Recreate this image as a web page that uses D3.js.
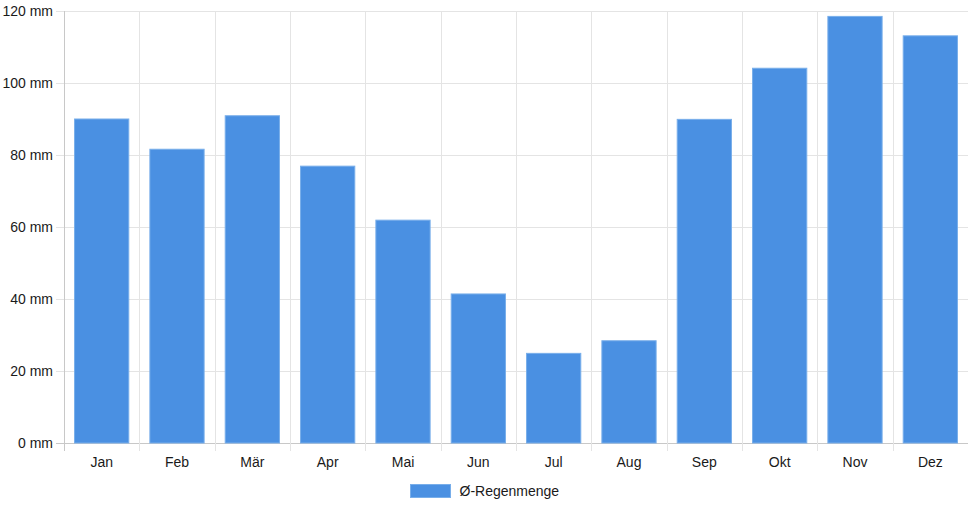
<!DOCTYPE html>
<html>
<head>
<meta charset="utf-8">
<script src="https://cdn.jsdelivr.net/npm/d3@7"></script>
<style>
  body { margin: 0; background: #fff; }
  text { font-family: "Liberation Sans", Arial, sans-serif; font-size: 14px; fill: #1a1a1a; }
</style>
</head>
<body>
<svg id="chart" width="968" height="508"></svg>
<script>
// monthly average rainfall
const months = ['Jan', 'Feb', 'Mär', 'Apr', 'Mai', 'Jun', 'Jul', 'Aug', 'Sep', 'Okt', 'Nov', 'Dez']
const rain = [90, 81.6, 90.9, 76.9, 61.9, 41.4, 24.9, 28.4, 89.9, 104.1, 118.5, 113.1]
const yTicks = [0, 20, 40, 60, 80, 100, 120]
const seriesName = 'Ø-Regenmenge'

const margin = { top: 11, right: 0, bottom: 65, left: 64 }
const width = 968 - margin.left - margin.right
const height = 508 - margin.top - margin.bottom

const svg = d3.select('#chart')
  .append('g')
  .attr('transform', 'translate(' + margin.left + ',' + margin.top + ')')

const x = d3.scaleBand()
  .domain(months)
  .range([0, width])
  .paddingInner(0)

const y = d3.scaleLinear()
  .domain([0, 120])
  .range([height, 0])

// grid lines
svg.append('g')
  .selectAll('line')
  .data(yTicks)
  .enter()
  .append('line')
  .attr('x1', -8)
  .attr('x2', width)
  .attr('y1', d => Math.round(y(d)) + 0.5)
  .attr('y2', d => Math.round(y(d)) + 0.5)
  .attr('stroke', d => d === 0 ? '#c8c8c8' : '#e4e4e4')

svg.append('g')
  .selectAll('line')
  .data(months.map((m, i) => i))
  .enter()
  .append('line')
  .attr('x1', d => Math.round(d * x.step()) + 0.5)
  .attr('x2', d => Math.round(d * x.step()) + 0.5)
  .attr('y1', 0)
  .attr('y2', height + 8)
  .attr('stroke', d => d === 0 ? '#c8c8c8' : '#e4e4e4')

// y labels
svg.append('g')
  .selectAll('text')
  .data(yTicks)
  .enter()
  .append('text')
  .attr('x', -11)
  .attr('y', d => y(d))
  .attr('dy', '0.35em')
  .attr('text-anchor', 'end')
  .text(d => d + ' mm')

// x labels
svg.append('g')
  .selectAll('text')
  .data(months)
  .enter()
  .append('text')
  .attr('x', d => x(d) + x.bandwidth() / 2)
  .attr('y', height + 19)
  .attr('dy', '0.35em')
  .attr('text-anchor', 'middle')
  .text(d => d)

// bars: 0.9 * 0.8 of category width
const barW = x.bandwidth() * 0.72
svg.append('g')
  .selectAll('rect')
  .data(rain)
  .enter()
  .append('rect')
  .attr('x', (d, i) => x(months[i]) + (x.bandwidth() - barW) / 2)
  .attr('y', d => y(d))
  .attr('width', barW)
  .attr('height', d => height - y(d))
  .attr('fill', '#4a90e2')
  .attr('stroke', '#78aeea')
  .attr('stroke-width', 1)

// legend
const legend = svg.append('g')
  .attr('transform', 'translate(' + (410.5 - margin.left) + ',' + (484.5 - margin.top) + ')')
legend.append('rect')
  .attr('width', 40)
  .attr('height', 13)
  .attr('fill', '#4a90e2')
  .attr('stroke', '#78aeea')
legend.append('text')
  .attr('x', 49)
  .attr('y', 6.5)
  .attr('dy', '0.35em')
  .text(seriesName)
</script>
</body>
</html>
